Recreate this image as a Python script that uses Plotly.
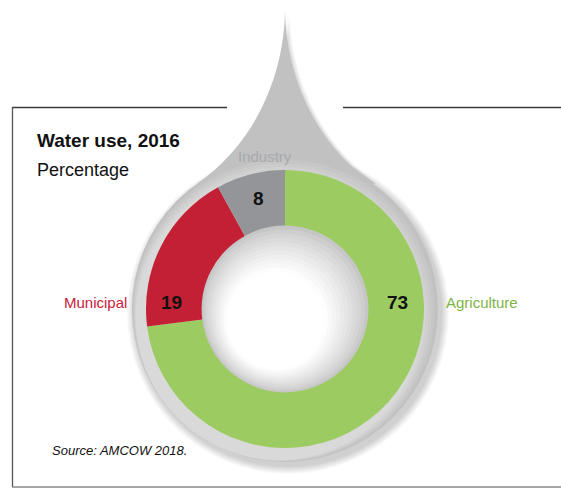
import plotly.graph_objs as go

# data
categories = ["Agriculture", "Municipal", "Industry"]
values = [73, 19, 8]
colors = ["#9ccc61", "#c42035", "#939598"]
label_colors = ["#7db444", "#c8203a", "#a7a9ac"]

W, H = 561, 488
cx, cy = 285, 309      # donut centre (pixels)
r_pie = 139
r_drop = 153

fig = go.Figure()

# dummy trace so the pixel axes exist
fig.add_trace(go.Scatter(x=[0, W], y=[0, H], mode="markers",
                         marker=dict(opacity=0), hoverinfo="skip", showlegend=False))

fig.add_trace(go.Pie(labels=categories, values=values, hole=0.6, sort=False,
                     direction="clockwise", rotation=0, textinfo="none",
                     marker=dict(colors=colors, line=dict(width=0)),
                     domain=dict(x=[(cx - r_pie) / W, (cx + r_pie) / W],
                                 y=[(H - cy - r_pie) / H, (H - cy + r_pie) / H]),
                     showlegend=False))

shapes = []


def circle(x0, y0, r, fill, opacity=1):
    return dict(type="circle", xref="x", yref="y", x0=x0 - r, x1=x0 + r,
                y0=y0 - r, y1=y0 + r, fillcolor=fill, opacity=opacity,
                line=dict(width=0), layer="below")


def drop_path(dx=0, dy=0):
    # top of the drop: two concave curves meeting at the tip
    p = [(285, 8), (285, 70), (258.6, 140.6), (197.2, 183.7)]
    q = [(570 - x, y) for x, y in p]
    f = lambda pt: f"{pt[0] + dx},{pt[1] + dy}"
    return (f"M {f(p[0])} C {f(p[1])} {f(p[2])} {f(p[3])} "
            f"L {f(q[3])} C {f(q[2])} {f(q[1])} {f(q[0])} Z")


# soft shadow on the right / bottom
for k in range(8, 0, -1):
    shapes.append(circle(cx + 3, cy + 4, r_drop + k, "#000000", 0.022))
    shapes.append(dict(type="path", path=drop_path(k * 0.6, 0), fillcolor="#000000",
                       opacity=0.018, line=dict(width=0), layer="below"))

# drop body
shapes.append(circle(cx, cy, r_drop, "#c1c1c1"))
shapes.append(dict(type="path", path=drop_path(), fillcolor="#c1c1c1",
                   line=dict(width=0), layer="below"))

# lighter ring towards lower left
ring = [(2, "#c6c6c6"), (4, "#cbcbcb"), (6, "#d0d0d0"), (8, "#d5d5d5"), (10, "#d9d9d9")]
for off, col in ring:
    shapes.append(circle(cx - 0.6 * off, cy + 0.8 * off, r_drop - off, col))

# shaded hole (fake radial gradient)
n = 24
for i in range(n):
    t = i / (n - 1)
    r = 84 * (1 - t) + 10 * t
    g = int(198 + (255 - 198) * min(1, (t * 2.2) ** 0.8))
    shapes.append(circle(cx - 20 * t, cy + 24 * t, r, f"rgb({g},{g},{g})"))

# frame lines
shapes += [
    dict(type="line", xref="x", yref="y", x0=12, x1=227, y0=107.5, y1=107.5,
         line=dict(color="#3a3a3a", width=1.3)),
    dict(type="line", xref="x", yref="y", x0=343, x1=W, y0=107.5, y1=107.5,
         line=dict(color="#3a3a3a", width=1.3)),
    dict(type="line", xref="x", yref="y", x0=12.5, x1=12.5, y0=107, y1=487,
         line=dict(color="#555555", width=1.3)),
    dict(type="line", xref="x", yref="y", x0=12, x1=W, y0=487, y1=487,
         line=dict(color="#888888", width=1.3)),
]

font = "Liberation Sans, Arial, sans-serif"
ann = [
    dict(x=35, y=140, text="<b>Water use, 2016</b>", xanchor="left",
         font=dict(size=19, color="#111111")),
    dict(x=35, y=170, text="Percentage", xanchor="left",
         font=dict(size=18, color="#111111")),
    dict(x=50, y=450, text="<i>Source: AMCOW 2018.</i>", xanchor="left",
         font=dict(size=13, color="#111111")),
    # category labels
    dict(x=482, y=302, text=categories[0], xanchor="center",
         font=dict(size=15, color=label_colors[0])),
    dict(x=129, y=302, text=categories[1], xanchor="right",
         font=dict(size=15, color=label_colors[1])),
    dict(x=265, y=156, text=categories[2], xanchor="center",
         font=dict(size=15, color=label_colors[2])),
    # values
    dict(x=397, y=302, text=f"<b>{values[0]}</b>", font=dict(size=19, color="#111111")),
    dict(x=171, y=302, text=f"<b>{values[1]}</b>", font=dict(size=19, color="#111111")),
    dict(x=258, y=198, text=f"<b>{values[2]}</b>", font=dict(size=19, color="#111111")),
]
for a in ann:
    a.update(xref="x", yref="y", showarrow=False, yanchor="middle")
    a["font"]["family"] = font

fig.update_layout(
    width=W, height=H,
    margin=dict(l=0, r=0, t=0, b=0),
    paper_bgcolor="white", plot_bgcolor="white",
    xaxis=dict(range=[0, W], visible=False, fixedrange=True),
    yaxis=dict(range=[H, 0], visible=False, fixedrange=True),
    shapes=shapes, annotations=ann,
    font=dict(family=font),
)

# page has a default 8px body margin; drop it so pixels line up
fig.write_html("out.html", config={"displayModeBar": False},
               post_script="document.body.style.margin='0';")
